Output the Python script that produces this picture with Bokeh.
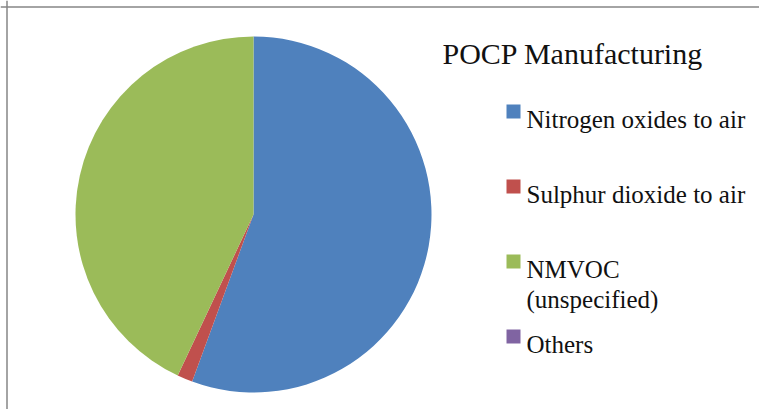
import numpy as np
from bokeh.plotting import figure
from bokeh.models import Range1d, Span, ColumnDataSource
from bokeh.core.properties import value
from bokeh.embed import file_html
from bokeh.resources import INLINE

# ---- data ----
title = "POCP Manufacturing"
categories = ["Nitrogen oxides to air", "Sulphur dioxide to air", "NMVOC\n(unspecified)", "Others"]
shares = [55.6, 1.4, 43.0, 0.0]
colors = ["#4F81BD", "#C0504D", "#9BBB59", "#8064A2"]

# ---- layout (screen pixels, figure origin at top-left of window) ----
W, H = 759, 409


def Y(page_y):
    return H - page_y


p = figure(width=W, height=H, x_range=Range1d(0, W), y_range=Range1d(0, H),
           output_backend="svg", toolbar_location=None, x_axis_type=None, y_axis_type=None,
           min_border=0)
p.outline_line_color = None
p.xgrid.visible = False
p.ygrid.visible = False

# title (texts drawn first)
p.text(x=[442], y=[Y(53)], text=[title], text_font=value("Liberation Serif"), text_font_size="30px",
       text_baseline="alphabetic", text_color="#111111")

# legend texts
sw_x, tx_x, first_y, step, base_off, line_gap = 513, 526, 111, 75, 8, 30
lx, ly, lt = [], [], []
for i, lab in enumerate(categories):
    for j, line in enumerate(lab.split("\n")):
        lx.append(tx_x)
        ly.append(Y(first_y + step * i + base_off + line_gap * j))
        lt.append(line)
p.text(x=lx, y=ly, text=lt, text_font=value("Liberation Serif"), text_font_size="25px",
       text_baseline="alphabetic", text_color="#111111")

# legend swatches
sw_y = [Y(first_y + step * i) for i in range(len(categories))]
p.rect(x=[sw_x] * len(categories), y=sw_y, width=14, height=14, fill_color=colors, line_color=None)

# pie
cx, cy, r = 253, 214, 178
vals = np.array(shares, dtype=float)
frac = vals / vals.sum()
cum_end = np.cumsum(frac)
cum_start = cum_end - frac
start = np.pi / 2 - 2 * np.pi * cum_start
end = np.pi / 2 - 2 * np.pi * cum_end
keep = vals > 0
src = ColumnDataSource(dict(start=start[keep], end=end[keep],
                            color=[c for c, k in zip(colors, keep) if k]))
p.wedge(x=cx, y=Y(cy), radius=r, start_angle="start", end_angle="end", direction="clock",
        fill_color="color", line_color=None, source=src)

# chart border (top & left visible)
p.add_layout(Span(location=6.5, dimension="height", line_color="#868686", line_width=1.5))
p.add_layout(Span(location=Y(6.5), dimension="width", line_color="#868686", line_width=1.5))

open("out.html", "w").write(file_html(p, INLINE))
